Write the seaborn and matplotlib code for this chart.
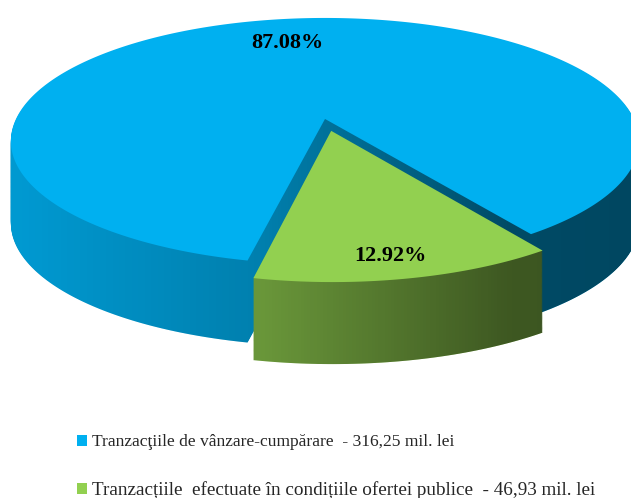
import numpy as np
import matplotlib.pyplot as plt
import seaborn as sns
from matplotlib.path import Path
from matplotlib.transforms import Transform, Affine2D

# data
labels = ["Tranzacţiile de vânzare-cumpărare  - 316,25 mil. lei",
          "Tranzacțiile  efectuate în condițiile ofertei publice  - 46,93 mil. lei"]
values = [316.25, 46.93]
colors = ["#00B0F0", "#92D050"]
explode = [0, 0.1]


class Tilt(Transform):
    # cheap perspective: back of the disc shrinks, front grows
    input_dims = output_dims = 2

    def __init__(self, k):
        super().__init__()
        self.k = k

    def transform_non_affine(self, xy):
        xy = np.asarray(xy, float)
        d = 1 + self.k * xy[:, 1]
        return np.column_stack([xy[:, 0] / d, xy[:, 1] / d])

    def transform_path_non_affine(self, path):
        # flatten the bezier arcs first so the warp stays smooth
        pts = []
        for seg, code in path.iter_bezier():
            if code == Path.MOVETO:
                pts.append(seg.control_points)
            else:
                pts.append(seg(np.linspace(0, 1, 30))[1:])
        return Path(self.transform_non_affine(np.concatenate(pts)))


sns.set_theme(style="white")
plt.rcParams["font.family"] = ["Liberation Serif", "DejaVu Serif"]

fig = plt.figure(figsize=(6.31, 4.98), dpi=100)
ax = fig.add_axes([0, 0, 1, 1])
ax.axis("off")

tilt = Tilt(0.18)
start = 304.6
depth = 0.688
n_layers = 90

# side walls: stack of pies going down
side_paths = []
for off in np.linspace(-depth, 0, n_layers, endpoint=False):
    t = tilt + Affine2D().translate(0, off)
    w, _ = ax.pie(values, colors=colors, startangle=start, explode=explode,
                  wedgeprops=dict(linewidth=0, zorder=1))
    for p in w:
        p.set_transform(t + ax.transData)
        side_paths.append(t.transform_path(p.get_path()))

# horizontal shading on the walls
xs = np.linspace(-1.1, 1.1, 400)
shade = np.interp(xs, [-1, -0.2, 0.6, 1], [0.87, 0.72, 0.42, 0.40])
grad = np.zeros((1, xs.size, 4))
grad[..., 3] = 1 - shade
img = ax.imshow(grad, extent=(-1.1, 1.1, -1.6 - depth, 1.3), aspect="auto",
                zorder=1.5, interpolation="bilinear")
img.set_clip_path(Path.make_compound_path(*side_paths), ax.transData)

# top surface
wedges, texts, autotexts = ax.pie(values, colors=colors, startangle=start, explode=explode,
                                  autopct="%.2f%%", pctdistance=0.87,
                                  wedgeprops=dict(linewidth=0, zorder=2),
                                  textprops=dict(fontsize=16, fontweight="bold", color="black"))
for p in wedges:
    p.set_transform(tilt + ax.transData)
for t in autotexts:
    t.set_transform(tilt + ax.transData)
autotexts[0].set_position((-0.136, 0.72))
autotexts[1].set_position((0.175, -0.95))

ax.set_aspect("auto")
ax.set_xlim(-1.0518, 0.9903)
ax.set_ylim(-3.180, 0.998)

leg = fig.legend(wedges, labels, loc="upper left", bbox_to_anchor=(0.122, 0.128),
                 frameon=False, fontsize=12.6, handlelength=0.6, handleheight=0.6,
                 handletextpad=0.25, labelspacing=1.75, borderpad=0, borderaxespad=0)
leg.get_texts()[1].set_fontsize(13.8)

fig.savefig("out.png", dpi=100)
